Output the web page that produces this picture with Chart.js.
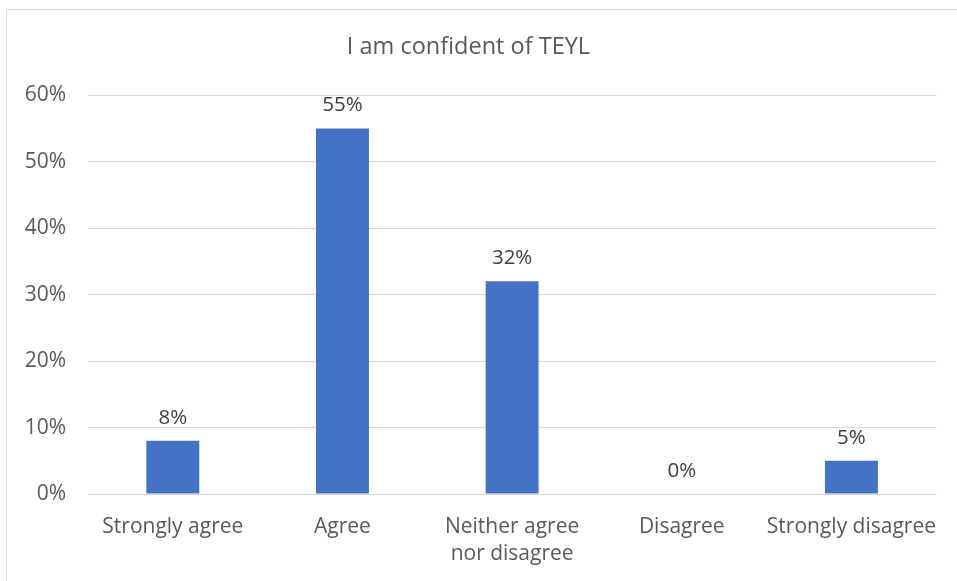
<!DOCTYPE html>
<html>
<head>
<meta charset="utf-8">
<script src="https://cdn.jsdelivr.net/npm/chart.js@4.4.1/dist/chart.umd.min.js"></script>
<style>
  html, body { margin: 0; padding: 0; background: #ffffff; overflow: hidden; }
  #frame { position: absolute; left: 6px; top: 9px; width: 1000px; height: 1000px; border: 1px solid #d9d9d9; box-sizing: border-box; }
  #wrap { position: absolute; left: 0; top: 0; width: 957px; height: 581px; }
</style>
</head>
<body>
<div id="frame"></div>
<div id="wrap"><canvas id="chart" width="957" height="581"></canvas></div>
<script>
// Survey responses for "I am confident of TEYL" (percent of respondents)
const categories = ['Strongly agree', 'Agree', ['Neither agree', 'nor disagree'], 'Disagree', 'Strongly disagree'];
const percentages = [8, 55, 32, 0, 5];
const yTicks = [0, 10, 20, 30, 40, 50, 60];

const FONT = '"Open Sans", "Noto Sans", sans-serif';

// Value labels drawn above each bar
const valueLabels = {
  id: 'valueLabels',
  afterDatasetsDraw(chart) {
    const ctx = chart.ctx;
    const meta = chart.getDatasetMeta(0);
    ctx.save();
    ctx.font = '20.5px ' + FONT;
    ctx.fillStyle = '#404040';
    ctx.textAlign = 'center';
    ctx.textBaseline = 'alphabetic';
    meta.data.forEach((bar, i) => {
      ctx.fillText(percentages[i] + '%', bar.x, bar.y - 17);
    });
    ctx.restore();
  }
};

new Chart(document.getElementById('chart'), {
  type: 'bar',
  data: {
    labels: categories,
    datasets: [{
      data: percentages,
      backgroundColor: '#4472C4',
      borderWidth: 0,
      categoryPercentage: 1,
      barPercentage: 0.312
    }]
  },
  options: {
    responsive: false,
    animation: false,
    layout: { padding: { left: 0, right: 20, top: 0, bottom: 0 } },
    plugins: {
      legend: { display: false },
      tooltip: { enabled: false },
      title: {
        display: true,
        text: 'I am confident of TEYL',
        color: '#595959',
        font: { family: FONT, size: 23.5, weight: 'normal', lineHeight: 1.2 },
        padding: { top: 33, bottom: 34 }
      }
    },
    scales: {
      x: {
        grid: { display: false, drawTicks: false },
        border: { display: false },
        ticks: {
          color: '#595959',
          font: { family: FONT, size: 21, lineHeight: 1.3 },
          padding: 19,
          maxRotation: 0,
          autoSkip: false
        },
        afterFit(scale) { scale.height = 87; }
      },
      y: {
        min: yTicks[0],
        max: yTicks[yTicks.length - 1],
        grid: { color: '#d9d9d9', lineWidth: 1, drawTicks: false },
        border: { display: false },
        afterBuildTicks(scale) { scale.ticks = yTicks.map(v => ({ value: v })); },
        ticks: {
          color: '#595959',
          font: { family: FONT, size: 21 },
          padding: 22,
          callback: v => v + '%'
        },
        afterFit(scale) { scale.width = 88; }
      }
    }
  },
  plugins: [valueLabels]
});
</script>
</body>
</html>
